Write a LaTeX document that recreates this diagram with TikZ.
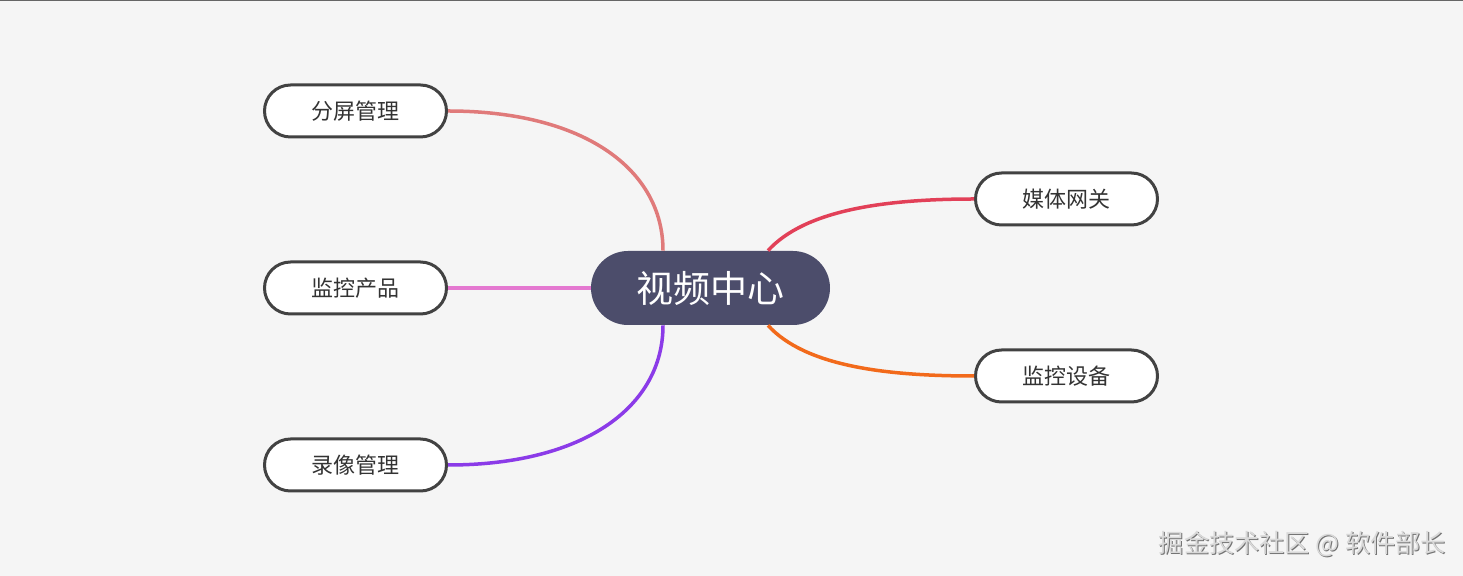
\documentclass[tikz,border=0pt]{standalone}
\usepackage{fontspec}
\setmainfont{Noto Sans CJK SC}
\usetikzlibrary{shapes.misc,positioning,calc}
\definecolor{bggray}{RGB}{245,245,245}
\definecolor{hubfill}{RGB}{76,77,107}
\definecolor{leafline}{RGB}{66,66,66}
\definecolor{leaftext}{RGB}{51,51,51}
\definecolor{pinkred}{RGB}{224,122,122}
\definecolor{orchid}{RGB}{228,120,208}
\definecolor{violet}{RGB}{139,59,232}
\definecolor{crimson}{RGB}{226,64,88}
\definecolor{orange}{RGB}{242,106,27}

\begin{document}
\begin{tikzpicture}[x=0.5pt, y=-0.5pt,
    leaf/.style={rounded rectangle, draw=leafline, line width=1.5pt, fill=white, minimum width=91pt, minimum height=26pt, inner sep=0pt, text=leaftext, font=\fontsize{11}{13}\selectfont},
    hub/.style={rounded rectangle, fill=hubfill, minimum width=119.5pt, minimum height=37pt, inner sep=0pt, text=white, font=\fontsize{18.5}{22}\selectfont},
    branch/.style={line width=1.75pt}]
        \fill[bggray] (0,0) rectangle (1463,576);
        \useasboundingbox (0,0) rectangle (1463,576);
        \draw[line width=1pt, black!60] (0,0.5) -- (1463,0.5);

        \node[hub] (hub) at (710.5,288) {视频中心};

        % left column
        \node[leaf] (split) at (355.5,111) {分屏管理};
        \node[leaf, below=61pt of split] (monprod) {监控产品};
        \node[leaf, below=61pt of monprod] (record) {录像管理};

        % right column
        \node[leaf] (gateway) at (1066.5,199) {媒体网关};
        \node[leaf, below=61pt of gateway] (mondev) {监控设备};

        \draw[branch, pinkred] ($(hub.north)+(-47.5,0)$) .. controls (663,170) and (585,111) .. (split.east);
        \draw[branch, orchid] (hub.west) -- (monprod.east);
        \draw[branch, violet] ($(hub.south)+(-47.5,0)$) .. controls (663,406) and (585,465) .. (record.east);
        \draw[branch, crimson] ($(hub.north)+(57.5,0)$) .. controls (805,210) and (885,199) .. (gateway.west);
        \draw[branch, orange] ($(hub.south)+(57.5,0)$) .. controls (805,366) and (885,376) .. (mondev.west);

        % watermark
        \node[text=black!55, font=\fontsize{12.6}{14}\selectfont] (markshadow) at (1303.5,544.5) {掘金技术社区 @ 软件部长};
        \node[text=white!85!black, font=\fontsize{12.6}{14}\selectfont] (mark) at (1302.5,543.5) {掘金技术社区 @ 软件部长};
\end{tikzpicture}
\end{document}
